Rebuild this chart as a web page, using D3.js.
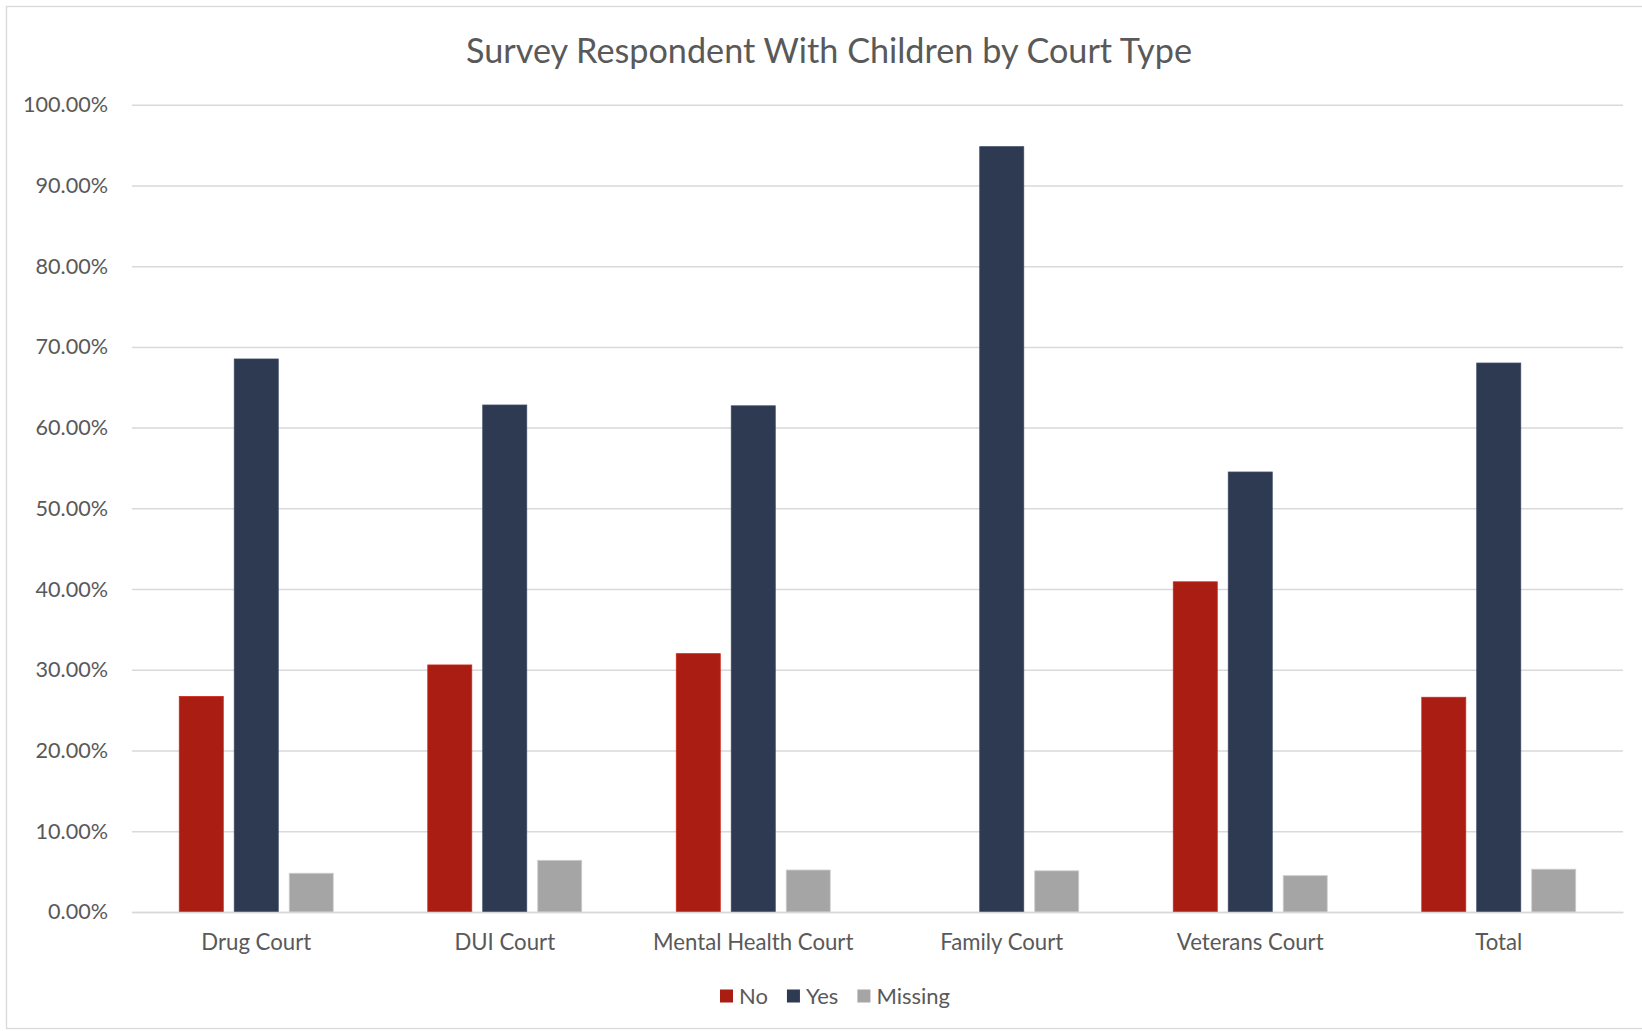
<!DOCTYPE html>
<html>
<head>
<meta charset="utf-8">
<script src="https://cdn.jsdelivr.net/npm/d3@7"></script>
<style>
  html, body { margin: 0; padding: 0; background: #fff; }
  svg { display: block; }
  text { font-family: Lato, "Open Sans", sans-serif; fill: #595959; }
</style>
</head>
<body>
<svg id="chart" width="1642" height="1031"></svg>
<script>
// Share of survey respondents with children, by court type
const courts = ["Drug Court", "DUI Court", "Mental Health Court", "Family Court", "Veterans Court", "Total"];
const seriesNames = ["No", "Yes", "Missing"];
const noValues      = [26.7, 30.6, 32.0, 0.0, 40.9, 26.6];
const yesValues     = [68.5, 62.8, 62.7, 94.8, 54.5, 68.0];
const missingValues = [4.8, 6.4, 5.2, 5.1, 4.5, 5.3];
const yTicks = [0, 10, 20, 30, 40, 50, 60, 70, 80, 90, 100];
const colors = ["#A91D13", "#2E3A51", "#A5A5A5"];
const chartTitle = "Survey Respondent With Children by Court Type";

const seriesValues = [noValues, yesValues, missingValues];
const rows = courts.map((c, i) => ({
  court: c,
  values: seriesNames.map((s, k) => ({ series: s, value: seriesValues[k][i], k }))
}));

const svg = d3.select("#chart");
const W = 1642, H = 1031;
const plot = { left: 132, right: 1623, top: 104.7, bottom: 912 };

// chart area frame
svg.append("rect")
  .attr("x", 6.5).attr("y", 6.5)
  .attr("width", W + 10).attr("height", 1022)
  .attr("fill", "#fff").attr("stroke", "#D9D9D9").attr("stroke-width", 1.3);

// fit a text element to a given rendered width by adjusting its font size
function fitWidth(sel, target) {
  const node = sel.node();
  let fs = parseFloat(sel.attr("font-size"));
  for (let i = 0; i < 4; i++) {
    const w = node.getComputedTextLength();
    if (!w) break;
    fs = fs * target / w;
    sel.attr("font-size", fs);
  }
  return fs;
}

// title
const title = svg.append("text")
  .attr("x", 829).attr("y", 63)
  .attr("text-anchor", "middle")
  .attr("font-size", 32)
  .text(chartTitle);
fitWidth(title, 726);

const x0 = d3.scaleBand().domain(courts).range([plot.left, plot.right]).paddingInner(0).paddingOuter(0);
const y = d3.scaleLinear().domain([0, 100]).range([plot.bottom, plot.top]);

const barW = x0.bandwidth() * 0.177;
const barStep = barW * 1.25;
const x1 = d3.scaleBand().domain(seriesNames)
  .range([-barStep * 1.5 + (barStep - barW) / 2, barStep * 1.5 - (barStep - barW) / 2])
  .paddingInner((barStep - barW) / barStep).paddingOuter(0);

// gridlines + y axis labels
const yAxis = d3.axisLeft(y)
  .tickValues(yTicks)
  .tickSize(-(plot.right - plot.left))
  .tickPadding(24)
  .tickFormat(d => d.toFixed(2) + "%");
const gy = svg.append("g")
  .attr("transform", `translate(${plot.left},0)`)
  .call(yAxis);
gy.select(".domain").remove();
gy.selectAll(".tick line").attr("stroke", "#D9D9D9").attr("stroke-width", 1.5);
gy.selectAll(".tick text")
  .attr("font-size", 21.6)
  .attr("font-family", "Lato, 'Open Sans', sans-serif")
  .attr("fill", "#595959");

// bars
const groups = svg.append("g").selectAll("g")
  .data(rows).join("g")
  .attr("transform", d => `translate(${x0(d.court) + x0.bandwidth() / 2},0)`);
groups.selectAll("rect")
  .data(d => d.values.filter(v => v.value > 0))
  .join("rect")
  .attr("x", d => x1(d.series))
  .attr("width", x1.bandwidth())
  .attr("y", d => y(d.value))
  .attr("height", d => y(0) - y(d.value))
  .attr("fill", d => colors[d.k])
  .attr("stroke", d => d3.color(colors[d.k]).brighter(0.6))
  .attr("stroke-width", 0.8);

// x axis baseline and category labels
const xAxis = d3.axisBottom(x0).tickSize(0).tickPadding(22);
const gx = svg.append("g")
  .attr("transform", `translate(0,${plot.bottom})`)
  .call(xAxis);
gx.select(".domain").attr("stroke", "#D9D9D9").attr("stroke-width", 1.5);
gx.selectAll(".tick text")
  .attr("font-size", 22.2)
  .attr("font-family", "Lato, 'Open Sans', sans-serif")
  .attr("fill", "#595959");

// legend
const legend = svg.append("g");
const sq = 13, gapText = 6, gapItem = 19, legendY = 996;
let cx = 0;
seriesNames.forEach((s, k) => {
  const g = legend.append("g");
  g.append("rect").attr("width", sq).attr("height", sq).attr("y", -sq / 2).attr("fill", colors[k]);
  const t = g.append("text").attr("x", sq + gapText).attr("dy", "0.35em")
    .attr("font-size", 22).text(s);
  const w = sq + gapText + t.node().getComputedTextLength();
  g.attr("transform", `translate(${cx},0)`);
  cx += w + gapItem;
});
const total = cx - gapItem;
legend.attr("transform", `translate(${835 - total / 2},${legendY})`);
</script>
</body>
</html>
